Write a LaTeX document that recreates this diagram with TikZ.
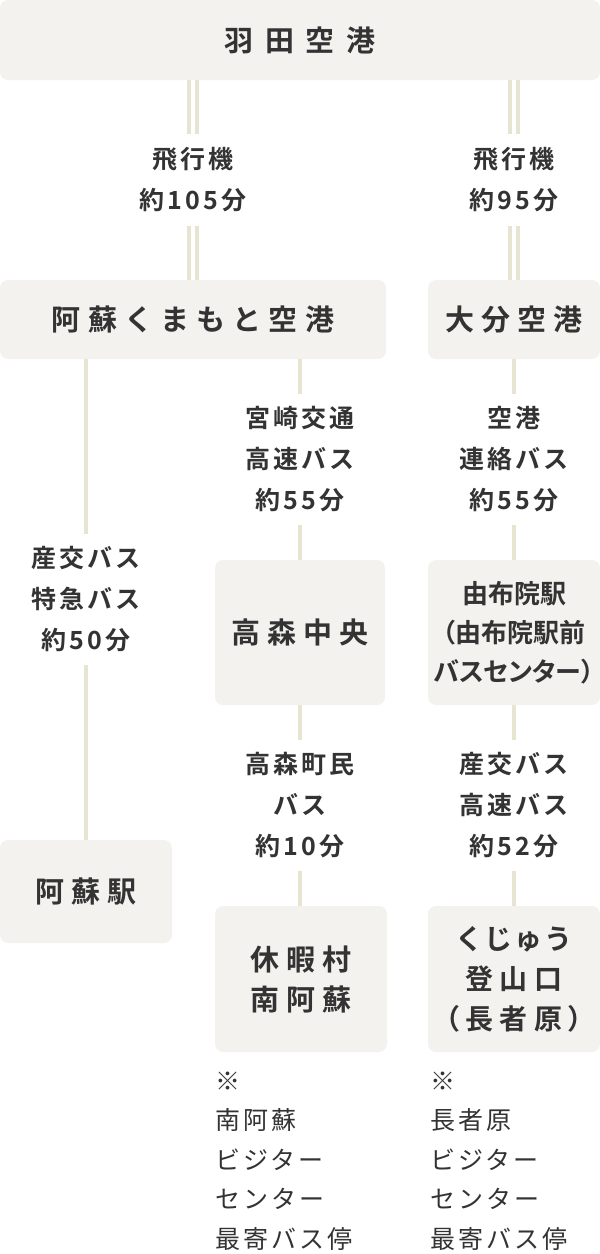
\documentclass[tikz,border=0pt]{standalone}
\usepackage{fontspec}
\usetikzlibrary{positioning}
\newfontfamily\jpbold{Noto Sans CJK JP Bold}[LetterSpace=25]
\newfontfamily\jpwide{Noto Sans CJK JP Bold}[LetterSpace=40]
\newfontfamily\jptight{Noto Sans CJK JP Bold}[RawFeature=+palt]
\newfontfamily\jpkana{Noto Sans CJK JP Bold}[RawFeature=+palt,LetterSpace=22]
\newfontfamily\jplabel{Noto Sans CJK JP Bold}[LetterSpace=12]
\newfontfamily\jpnote{Noto Sans CJK JP}[LetterSpace=12]
\definecolor{boxfill}{HTML}{F3F2EE}
\definecolor{linecol}{HTML}{E7E4D1}
\definecolor{ink}{HTML}{333333}

\begin{document}
\begin{tikzpicture}[x=1pt,y=-1pt,
  stop/.style={fill=boxfill,rounded corners=8pt,inner sep=0pt,align=center,text=ink,
    font=\jpbold\fontsize{29}{40}\selectfont},
  route/.style={fill=white,inner xsep=4pt,inner ysep=13pt,align=center,text=ink,
    font=\jplabel\fontsize{25}{41}\selectfont},
  rail/.style={draw=linecol,line width=4pt},
  flight/.style={draw=linecol,double=white,line width=4pt,double distance=4pt},
  note/.style={anchor=west,inner sep=0pt,align=left,text=ink,
    font=\jpnote\fontsize{25}{39.5}\selectfont}
]
\useasboundingbox (0,0) rectangle (600,1254);

\node[stop,minimum width=600pt,minimum height=80pt,font=\jpwide\fontsize{29}{40}\selectfont] (haneda) at (300,40) {羽田空港};
\node[stop,minimum width=386pt,minimum height=79pt] (kumamoto) at (193,319.5) {阿蘇くまもと空港};
\node[stop,minimum width=172pt,minimum height=79pt] (oita) at (514,319.5) {大分空港};
\node[stop,minimum width=170pt,minimum height=145pt] (takamori) at (300,632.5) {高森中央};
\node[stop,minimum width=172pt,minimum height=145pt,font=\jptight\fontsize{26}{39}\selectfont] (yufuin) at (514,632.5) {由布院駅\\（由布院駅前\\バスセンター）};
\node[stop,minimum width=172pt,minimum height=103pt] (asost) at (86,891.5) {阿蘇駅};
\node[stop,minimum width=172pt,minimum height=146pt] (kyukamura) at (301,979) {休暇村\\南阿蘇};
\node[stop,minimum width=172pt,minimum height=146pt,font=\jpkana\fontsize{28}{40}\selectfont] (kuju) at (514,979) {くじゅう\\登山口\\（長者原）};

\draw[flight] (haneda.south -| kumamoto.north) -- node[route,inner ysep=14pt]{飛行機\\約105分} (kumamoto.north);
\draw[flight] (haneda.south -| oita.north) -- node[route,inner ysep=14pt]{飛行機\\約95分} (oita.north);
\draw[rail] (kumamoto.south -| asost.north) -- node[route]{産交バス\\特急バス\\約50分} (asost.north);
\draw[rail] (kumamoto.south -| takamori.north) -- node[route]{宮崎交通\\高速バス\\約55分} (takamori.north);
\draw[rail] (oita.south) -- node[route]{空港\\連絡バス\\約55分} (yufuin.north);
\draw[rail] (takamori.south) -- node[route]{高森町民\\バス\\約10分} (kyukamura.north -| takamori.south);
\draw[rail] (yufuin.south) -- node[route]{産交バス\\高速バス\\約52分} (kuju.north);

\node[note] (note1) at (215,1161) {※\\南阿蘇\\ビジター\\センター\\最寄バス停};
\node[note] (note2) at (430,1161) {※\\長者原\\ビジター\\センター\\最寄バス停};
\end{tikzpicture}
\end{document}
